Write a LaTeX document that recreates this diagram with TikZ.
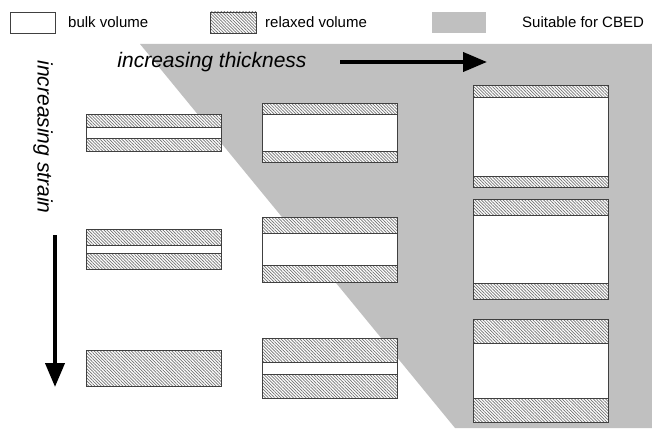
\documentclass[tikz,border=0pt]{standalone}
\usepackage{fontspec}
\setmainfont{Liberation Sans}
\usetikzlibrary{patterns.meta,arrows.meta}
\definecolor{cbedgray}{HTML}{C0C0C0}
\tikzset{
  relaxed/.style={draw=black!75, line width=0.8pt, preaction={fill=white},
    pattern={Lines[angle=-45,distance=2.2pt,line width=0.7pt]}, pattern color=black!55},
  bulk/.style={draw=black!75, line width=0.8pt, fill=white},
  legendtext/.style={font=\fontsize{15}{18}\selectfont, anchor=west, inner sep=0pt},
  axistext/.style={font=\itshape\fontsize{21}{25}\selectfont, inner sep=0pt},
  bigarrow/.style={line width=4pt, -{Triangle[length=24pt,width=19pt]}}
}
% film: x0 x1 top, end of upper relaxed layer, start of lower relaxed layer, bottom
\newcommand{\film}[6]{%
  \draw[bulk] (#1,#3) rectangle (#2,#6);
  \draw[relaxed] (#1,#3) rectangle (#2,#4);
  \draw[relaxed] (#1,#5) rectangle (#2,#6);
}
\begin{document}
\begin{tikzpicture}[x=1pt,y=-1pt]
  \useasboundingbox (0,0) rectangle (652,428);

  % region suitable for CBED
  \fill[cbedgray] (140,44) -- (652,44) -- (652,428) -- (455,428) -- cycle;

  % legend
  \draw[bulk] (10,12) rectangle (55,33);
  \node[legendtext] (bulk) at (68,22.5) {bulk volume};
  \draw[relaxed] (210,12) rectangle (256,33);
  \node[legendtext] (relax) at (265,22.5) {relaxed volume};
  \fill[cbedgray] (432,12) rectangle (486,33);
  \node[legendtext] (cbed) at (522,22.5) {Suitable for CBED};

  % axes
  \node[axistext] (thick) at (212,62) {increasing thickness};
  \coordinate (tstart) at (340,62);
  \coordinate (tend) at (487,62);
  \draw[bigarrow] (tstart) -- (tend);

  \node[axistext, rotate=-90] (strain) at (43,137) {increasing strain};
  \coordinate (sstart) at (55,235);
  \coordinate (send) at (55,387);
  \draw[bigarrow] (sstart) -- (send);

  % thin films
  \film{86}{221}{114}{127}{138}{151}
  \film{86}{221}{229}{245}{253}{269}
  \draw[relaxed] (86,350) rectangle (221,386); % fully relaxed

  \film{262}{397}{103}{114}{151}{162}
  \film{262}{397}{217}{233}{265}{282}
  \film{262}{397}{338}{362}{374}{398}

  \film{473}{608}{85}{97}{176}{187}
  \film{473}{608}{199}{215}{283}{299}
  \film{473}{608}{319}{343}{398}{422}
\end{tikzpicture}
\end{document}
